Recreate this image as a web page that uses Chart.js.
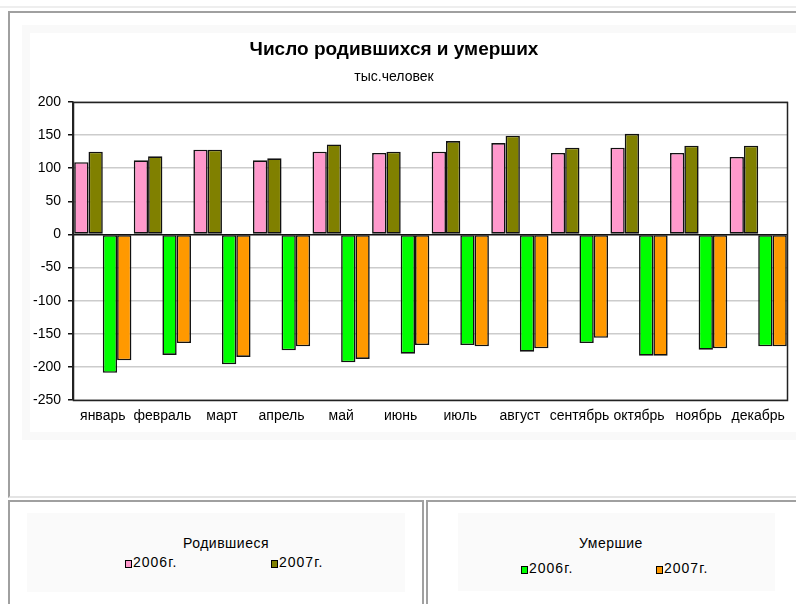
<!DOCTYPE html>
<html lang="ru">
<head>
<meta charset="UTF-8">
<title>Число родившихся и умерших</title>
<script src="https://cdn.jsdelivr.net/npm/chart.js@4.4.0/dist/chart.umd.min.js"></script>
<style>
  html, body { margin: 0; padding: 0; background: #fff; }
  body { width: 796px; height: 604px; position: relative; overflow: hidden;
         font-family: "Liberation Sans", Arial, sans-serif; }
  .abs { position: absolute; box-sizing: border-box; }
  #chart { position: absolute; left: 0; top: 0; }
  .lgTitle { position: absolute; font-size: 14px; letter-spacing: 0.5px; transform: translate(-50%, -50%); white-space: nowrap; }
  .lgItem { position: absolute; font-size: 14px; letter-spacing: 1px; white-space: nowrap; transform: translateY(-50%); }
  .lgItem i { display: inline-block; width: 7px; height: 8px; border: 1px solid #000; box-sizing: border-box;
              margin-right: 1px; vertical-align: -1px; }
</style>
</head>
<body>
<div class="abs" style="left:0;top:6px;width:796px;height:2px;background:#eeeeee"></div>
<div class="abs" style="left:8px;top:11px;width:800px;height:487px;border-top:2px solid #a0a0a0;border-left:2px solid #a0a0a0;border-bottom:2px solid #e4e4e4"></div>
<div class="abs" style="left:22px;top:25px;width:790px;height:415px;background:#f9f9f9"></div>
<div class="abs" style="left:30px;top:33px;width:780px;height:399px;background:#fff"></div>

<div class="abs" style="left:8px;top:500px;width:416px;height:110px;border:2px solid #a0a0a0"></div>
<div class="abs" style="left:27px;top:513px;width:378px;height:79px;background:#fafafa"></div>
<div class="abs" style="left:426px;top:500px;width:380px;height:110px;border-top:2px solid #a0a0a0;border-left:2px solid #a0a0a0"></div>
<div class="abs" style="left:458px;top:513px;width:317px;height:78px;background:#fafafa"></div>

<div id="legendBorn"></div>
<div id="legendDied"></div>

<canvas id="chart" width="832" height="445"></canvas>

<script>
  const months = ['январь','февраль','март','апрель','май','июнь','июль','август','сентябрь','октябрь','ноябрь','декабрь'];
  const years = ['2006г.', '2007г.'];
  const born2006 = [109, 112, 128, 112, 125, 123, 125, 138, 123, 131, 123, 117];
  const born2007 = [125, 118, 128, 115, 136, 125, 141, 149, 131, 152, 134, 134];
  const died2006 = [-209, -182, -196, -175, -193, -180, -167, -177, -164, -183, -174, -169];
  const died2007 = [-190, -164, -185, -169, -188, -167, -169, -172, -156, -183, -172, -169];
  const yTicks = [200, 150, 100, 50, 0, -50, -100, -150, -200, -250];

  const FONT = '"Liberation Sans", Arial, sans-serif';
  const bornColors = ['#ff99cc', '#808000'];
  const diedColors = ['#00ff00', '#ff9900'];

  function ds(label, data, color) {
    return { label: label, data: data, backgroundColor: color, borderColor: '#111', borderWidth: 1.6, borderSkipped: false };
  }

  // plot area frame (Excel style)
  const frame = {
    id: 'frame',
    afterDatasetsDraw(chart) {
      const a = chart.chartArea, c = chart.ctx;
      c.save();
      c.strokeStyle = '#222';
      c.lineWidth = 1.5;
      c.strokeRect(Math.round(a.left) + 0.5, Math.round(a.top) + 0.5, Math.round(a.right - a.left) - 1, Math.round(a.bottom - a.top));
      c.restore();
    }
  };

  new Chart(document.getElementById('chart'), {
    type: 'bar',
    data: {
      labels: months,
      datasets: [
        ds('Родившиеся ' + years[0], born2006, bornColors[0]),
        ds('Родившиеся ' + years[1], born2007, bornColors[1]),
        ds('Умершие ' + years[0], died2006, diedColors[0]),
        ds('Умершие ' + years[1], died2007, diedColors[1])
      ]
    },
    options: {
      responsive: false,
      animation: false,
      categoryPercentage: 0.96,
      barPercentage: 1.0,
      layout: { padding: { left: 0, right: 44, top: 0, bottom: 0 } },
      plugins: {
        legend: { display: false },
        tooltip: { enabled: false },
        title: {
          display: true,
          text: 'Число родившихся и умерших',
          color: '#000',
          font: { family: FONT, size: 19, weight: 'bold' },
          padding: { top: 38, bottom: 8 }
        },
        subtitle: {
          display: true,
          text: 'тыс.человек',
          color: '#000',
          font: { family: FONT, size: 14 },
          padding: { top: 0, bottom: 16.4 }
        }
      },
      scales: {
        x: {
          grid: { display: false, drawTicks: false },
          border: { display: false },
          ticks: { color: '#000', font: { family: FONT, size: 14 }, padding: 8, maxRotation: 0, autoSkip: false },
          afterFit(scale) { scale.height = 45; }
        },
        y: {
          min: -250,
          max: 200,
          afterBuildTicks(scale) { scale.ticks = yTicks.map(v => ({ value: v })); },
          grid: {
            color: ctx => (ctx.tick && ctx.tick.value === 0) ? '#111' : '#cccccc',
            lineWidth: 1.5,
            tickColor: '#111',
            tickLength: 5
          },
          border: { display: true, color: '#222', width: 1.5 },
          ticks: { color: '#000', font: { family: FONT, size: 14 }, padding: 7 },
          afterFit(scale) { scale.width = 73; }
        }
      }
    },
    plugins: [frame]
  });

  // legends split into two boxes, as in the original sheet
  function legend(el, title, names, colors, tx, ty, items) {
    let html = '<div class="lgTitle" style="left:' + tx + 'px;top:' + ty + 'px">' + title + '</div>';
    names.forEach((n, i) => {
      html += '<div class="lgItem" style="left:' + items[i][0] + 'px;top:' + items[i][1] + 'px"><i style="background:' + colors[i] + '"></i>' + n + '</div>';
    });
    el.innerHTML = html;
  }
  legend(document.getElementById('legendBorn'), 'Родившиеся', years, bornColors, 226, 543, [[125, 562], [271, 562]]);
  legend(document.getElementById('legendDied'), 'Умершие', years, diedColors, 611, 543, [[521, 568], [656, 568]]);
</script>
</body>
</html>
